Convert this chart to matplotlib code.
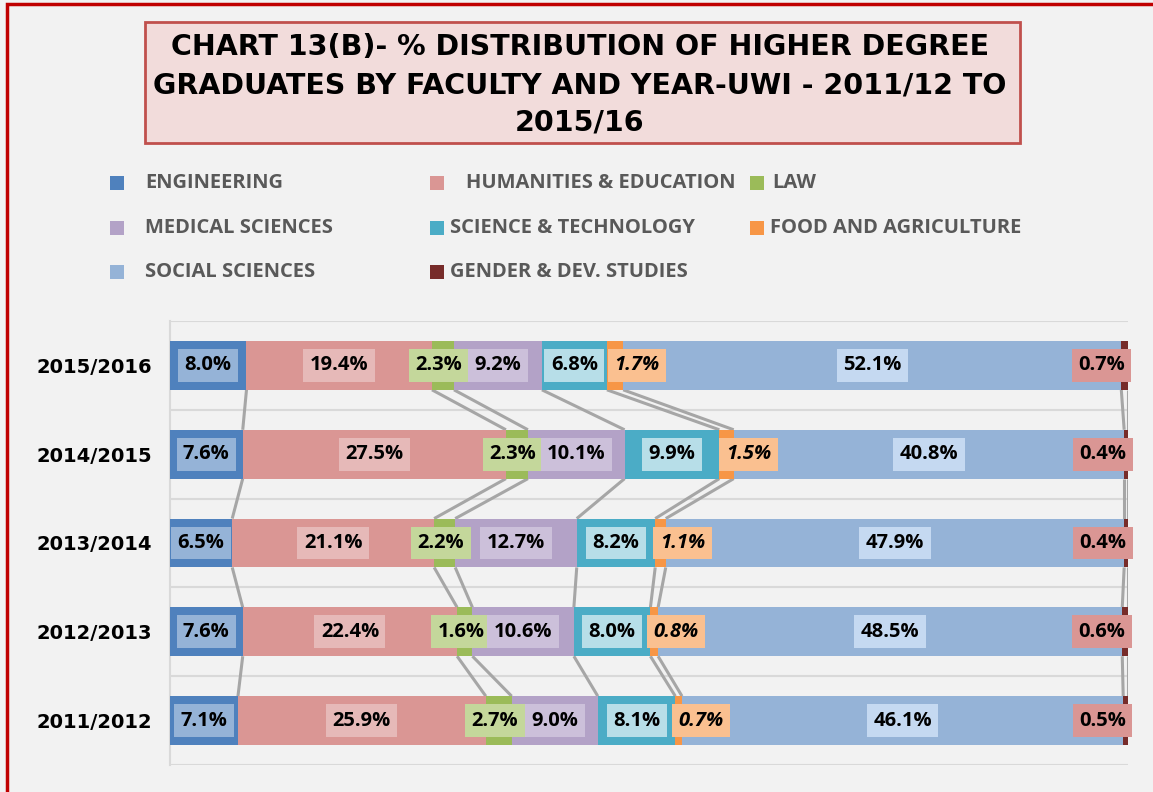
import matplotlib.pyplot as plt
import numpy as np
from matplotlib.patches import Rectangle

# 数据
years = ["2011/2012", "2012/2013", "2013/2014", "2014/2015", "2015/2016"]
faculties = ["ENGINEERING", "HUMANITIES & EDUCATION", "LAW", "MEDICAL SCIENCES",
             "SCIENCE & TECHNOLOGY", "FOOD AND AGRICULTURE", "SOCIAL SCIENCES",
             "GENDER & DEV. STUDIES"]
engineering = [7.1, 7.6, 6.5, 7.6, 8.0]
humanities = [25.9, 22.4, 21.1, 27.5, 19.4]
law = [2.7, 1.6, 2.2, 2.3, 2.3]
medical = [9.0, 10.6, 12.7, 10.1, 9.2]
science = [8.1, 8.0, 8.2, 9.9, 6.8]
food = [0.7, 0.8, 1.1, 1.5, 1.7]
social = [46.1, 48.5, 47.9, 40.8, 52.1]
gender = [0.5, 0.6, 0.4, 0.4, 0.7]

colors = ["#4f81bd", "#da9694", "#9bbb59", "#b3a2c7", "#4bacc6", "#f79646", "#95b3d7", "#772c2a"]
box_colors = ["#95b3d7", "#e6b9b8", "#c4d79b", "#ccc0da", "#b7dee8", "#fac090", "#c5d9f1", "#da9694"]
label_shift = [0, 0, -0.4, 0, 0, 2.3, 0, -2.4]

vals = np.array([engineering, humanities, law, medical, science, food, social, gender])
pct = vals / vals.sum(axis=0) * 100  # 100% 堆叠
cum = np.cumsum(pct, axis=0)
left = cum - pct

bg = "#f2f2f2"
fig = plt.figure(figsize=(11.53, 7.92), dpi=100, facecolor=bg)
ax = fig.add_axes([170 / 1153, 1 - 765 / 792, (1128 - 170) / 1153, (765 - 321) / 792])
ax.set_facecolor(bg)

y = np.arange(len(years))
h = 0.55
for k in range(len(faculties)):
    ax.barh(y, pct[k], left=left[k], height=h, color=colors[k], zorder=3)

# 系列线
for k in range(len(faculties)):
    for i in range(len(years) - 1):
        ax.plot([cum[k, i], cum[k, i + 1]], [i + h / 2, i + 1 - h / 2],
                color="#a6a6a6", lw=2.2, zorder=2, solid_capstyle="butt")

# 数据标签
for k in range(len(faculties)):
    for i in range(len(years)):
        ax.text(left[k, i] + pct[k, i] / 2 + label_shift[k], y[i], f"{vals[k, i]:.1f}%",
                ha="center", va="center", fontsize=14.5, fontweight="bold",
                fontstyle="italic" if k == 5 else "normal", family="Open Sans",
                color="black", zorder=5,
                bbox=dict(boxstyle="square,pad=0.32", fc=box_colors[k], ec="none"))

ax.set_xlim(0, 100)
ax.set_ylim(-0.5, len(years) - 0.5)
ax.set_xticks([])
ax.set_yticks(y)
ax.set_yticklabels(years, fontsize=14, fontweight="bold", family="DejaVu Sans")
ax.tick_params(axis="y", length=0, pad=13)
ax.set_yticks(np.arange(-0.5, len(years)), minor=True)
ax.tick_params(axis="y", which="minor", length=0)
ax.grid(which="minor", axis="y", color="#d9d9d9", lw=1.5, zorder=0)
for s in ["top", "right", "bottom"]:
    ax.spines[s].set_visible(False)
ax.spines["left"].set_color("#d9d9d9")
ax.spines["left"].set_linewidth(1.5)

# 标题框
W, H = 1153, 792
fig.add_artist(Rectangle((145 / W, 1 - 143 / H), (1020 - 145) / W, (143 - 22) / H,
                         transform=fig.transFigure, fc="#f2dcdb", ec="#c0504d", lw=2))
fig.text(580 / W, 1 - 85 / H,
         "CHART 13(B)- % DISTRIBUTION OF HIGHER DEGREE\nGRADUATES BY FACULTY AND YEAR-UWI - 2011/12 TO\n2015/16",
         ha="center", va="center", fontsize=20.5, fontweight="bold", family="DejaVu Sans",
         linespacing=1.45)

# 图例
leg_pos = [(117, 145, 183), (437, 466, 183), (757, 772, 183),
           (117, 145, 228), (437, 450, 228), (757, 770, 228),
           (117, 145, 272), (437, 450, 272)]
for k, (mx, tx, ty) in enumerate(leg_pos):
    fig.add_artist(Rectangle(((mx - 7) / W, 1 - (ty + 7) / H), 14 / W, 14 / H,
                             transform=fig.transFigure, fc=colors[k], ec="none"))
    fig.text(tx / W, 1 - ty / H, faculties[k], ha="left", va="center", fontsize=14.5,
             fontweight="bold", family="Open Sans", color="#595959")

# 外框
fig.add_artist(Rectangle((7 / W, -0.1), 1.2, 1 - 4 / H + 0.1, transform=fig.transFigure,
                         fc="none", ec="#c00000", lw=2.5))

fig.savefig("out.png", dpi=100, facecolor=bg)
